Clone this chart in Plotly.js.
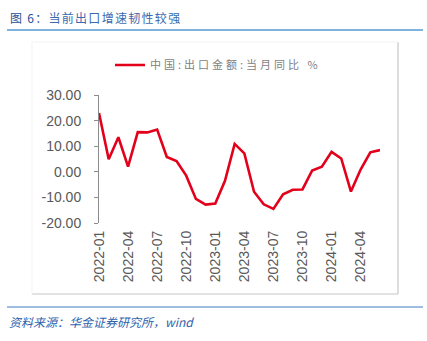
<!DOCTYPE html>
<html>
<head>
<meta charset="utf-8">
<script src="https://cdn.plot.ly/plotly-3.0.1.min.js"></script>
<style>
  html, body { margin: 0; padding: 0; background: #fff; }
  #chart { width: 427px; height: 341px; }
  .infolayer .annotation[data-index="0"] text { letter-spacing: 1.3px; }
  .legend .legendtext { letter-spacing: 3px; }
</style>
</head>
<body>
<div id="chart"></div>
<script>
// ---- data ----
const months = [
  '2022-01','2022-02','2022-03','2022-04','2022-05','2022-06','2022-07','2022-08','2022-09','2022-10','2022-11','2022-12',
  '2023-01','2023-02','2023-03','2023-04','2023-05','2023-06','2023-07','2023-08','2023-09','2023-10','2023-11','2023-12',
  '2024-01','2024-02','2024-03','2024-04','2024-05','2024-06'
];
const exportYoY = [
  23.0, 4.9, 13.5, 2.0, 15.5, 15.4, 16.5, 5.8, 4.2, -1.5, -10.6, -12.8,
  -12.4, -3.5, 10.9, 7.2, -7.8, -12.7, -14.5, -8.8, -7.0, -6.9, 0.5, 2.0,
  7.8, 5.2, -7.7, 0.9, 7.6, 8.5
];
const tickMonths = ['2022-01','2022-04','2022-07','2022-10','2023-01','2023-04','2023-07','2023-10','2024-01','2024-04'];
const yTickVals = [-20, -10, 0, 10, 20, 30];
const yTickText = ['-20.00', '-10.00', '0.00', '10.00', '20.00', '30.00'];
const seriesName = '中国:出口金额:当月同比 %';
const titleText = '图 6：当前出口增速韧性较强';
const sourceText = '资料来源：华金证券研究所，wind';

// ---- layout helpers ----
const W = 427, H = 341, L = 99, R = 47, T = 95, B = 118;
const pw = W - L - R, ph = H - T - B;
const px = x => (x - L) / pw;
const py = y => (H - B - y) / ph;
const titleSpacing = 1.3;

const cjk = '"Noto Sans CJK SC", "Noto Sans", sans-serif';
const arial = '"Liberation Sans", Arial, sans-serif';

const trace = {
  x: months,
  y: exportYoY,
  type: 'scatter',
  mode: 'lines',
  name: seriesName,
  line: { color: '#e3001b', width: 2.6 },
  xaxis: 'x',
  yaxis: 'y'
};

const layout = {
  width: W, height: H,
  margin: { l: L, r: R, t: T, b: B },
  paper_bgcolor: '#ffffff',
  plot_bgcolor: '#ffffff',
  showlegend: true,
  legend: {
    x: px(110), y: py(65), xanchor: 'left', yanchor: 'middle',
    orientation: 'h',
    entrywidth: 240,
    font: { family: cjk, size: 11, color: '#7f7f7f' },
    bgcolor: 'rgba(0,0,0,0)'
  },
  xaxis: {
    type: 'category',
    range: [0, months.length - 1],
    tickmode: 'array',
    tickvals: tickMonths,
    ticktext: tickMonths,
    tickangle: -90,
    ticks: '',
    showline: false,
    showgrid: false,
    zeroline: false,
    ticklabelstandoff: 4,
    tickfont: { family: arial, size: 14, color: '#595959' },
    fixedrange: true
  },
  xaxis2: {
    type: 'category',
    overlaying: 'x',
    matches: 'x',
    anchor: 'free',
    position: 0.4,
    range: [0, months.length - 1],
    tickmode: 'array',
    tickvals: tickMonths,
    ticktext: tickMonths,
    showticklabels: false,
    ticks: 'outside',
    ticklen: 5,
    tickcolor: '#8c8c8c',
    showline: true,
    linecolor: '#8c8c8c',
    linewidth: 1,
    showgrid: false,
    zeroline: false
  },
  yaxis: {
    range: [-20, 30],
    tickmode: 'array',
    tickvals: yTickVals,
    ticktext: yTickText,
    ticks: 'outside',
    ticklen: 4,
    tickcolor: '#8c8c8c',
    showline: true,
    linecolor: '#8c8c8c',
    linewidth: 1,
    showgrid: false,
    zeroline: false,
    tickfont: { family: arial, size: 14, color: '#595959' },
    ticklabelstandoff: 10,
    fixedrange: true
  },
  shapes: [
    { type: 'line', xref: 'paper', yref: 'paper', x0: px(7), x1: px(423), y0: py(30), y1: py(30), line: { color: '#7fb3dc', width: 2 } },
    { type: 'line', xref: 'paper', yref: 'paper', x0: px(7), x1: px(423), y0: py(307), y1: py(307), line: { color: '#3f7fc4', width: 1.2 } },
    { type: 'line', xref: 'paper', yref: 'paper', x0: px(398), x1: px(398), y0: py(42), y1: py(294), line: { color: '#c6c6c6', width: 1.2 } },
    { type: 'line', xref: 'paper', yref: 'paper', x0: px(32), x1: px(398), y0: py(294), y1: py(294), line: { color: '#c6c6c6', width: 1.2 } },
    { type: 'line', xref: 'paper', yref: 'paper', x0: px(32), x1: px(32), y0: py(42), y1: py(294), line: { color: '#f3f3f3', width: 1 } },
    { type: 'line', xref: 'paper', yref: 'paper', x0: px(32), x1: px(398), y0: py(42), y1: py(42), line: { color: '#f3f3f3', width: 1 } }
  ],
  annotations: [
    {
      xref: 'paper', yref: 'paper',
      x: px(8 + titleText.length * titleSpacing / 2), y: py(17),
      xanchor: 'left', yanchor: 'middle',
      showarrow: false,
      text: '<span style="color:#1f4f95">' + titleText.slice(0, 4) + '</span>' + titleText.slice(4),
      font: { family: cjk, size: 12, color: '#3b6aae' }
    },
    {
      xref: 'paper', yref: 'paper', x: px(7), y: py(321), xanchor: 'left', yanchor: 'middle',
      showarrow: false,
      text: '<i>' + sourceText + '</i>',
      font: { family: cjk, size: 12, color: '#2e62ad' }
    }
  ]
};

Plotly.newPlot('chart', [trace], layout, { staticPlot: true, displayModeBar: false });
</script>
</body>
</html>
